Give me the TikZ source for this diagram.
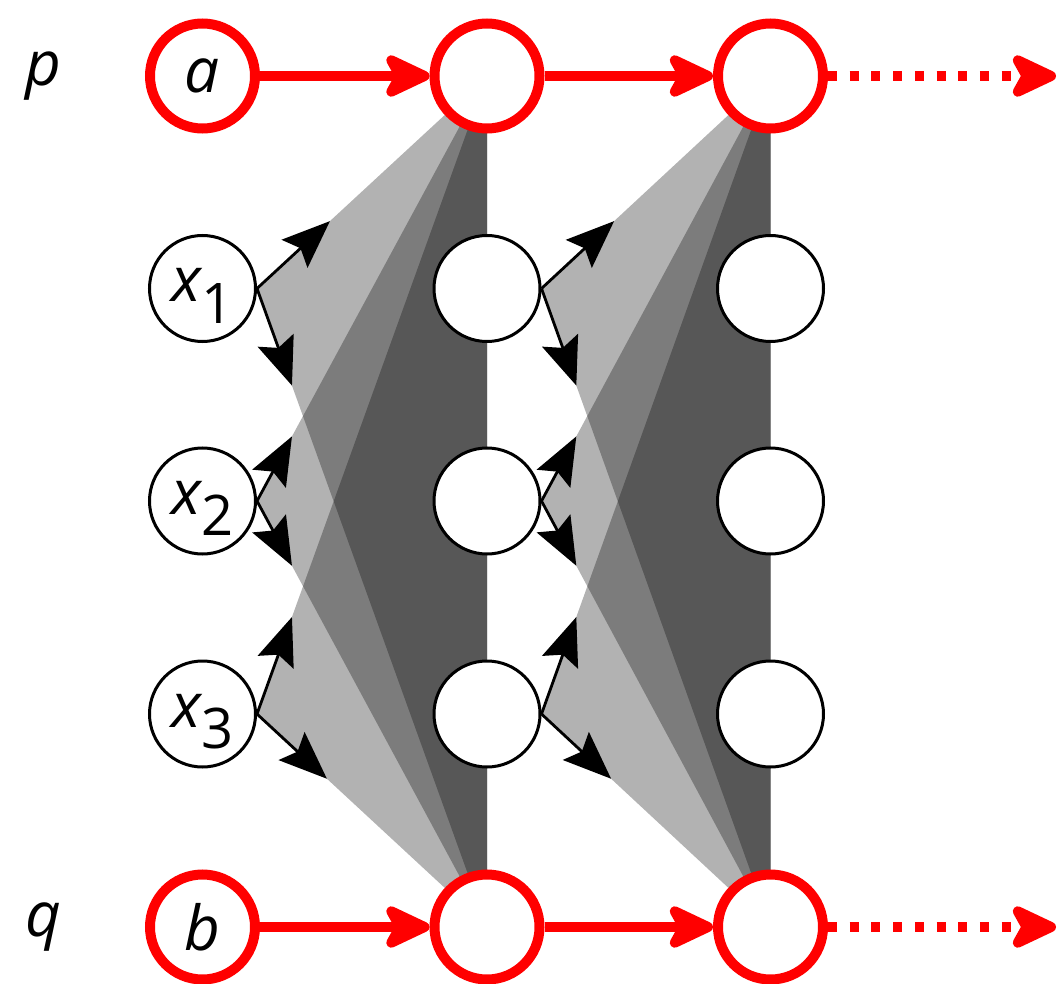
\documentclass[tikz,border=0pt]{standalone}
\usepackage{fontspec}
\setmainfont{Open Sans}
\usetikzlibrary{arrows.meta,calc}
\pgfdeclarelayer{bg}
\pgfsetlayers{bg,main}
\tikzset{
  rednode/.style={circle, draw=red, line width=10pt, fill=white, minimum size=105pt, inner sep=0pt},
  blknode/.style={circle, draw=black, line width=3pt, fill=white, minimum size=106pt, inner sep=0pt},
  redarrow/.style={draw=red, line width=10pt, -{Stealth[length=56pt,width=52pt,inset=14pt,round]}},
  dotarrow/.style={redarrow, dash pattern=on 9pt off 12.7pt},
  blkarrow/.style={line width=2.8pt, -{Stealth[length=48pt,width=38pt,inset=8pt]}},
  graytri/.style={fill=black, fill opacity=0.3},
  lbl/.style={font=\fontsize{62}{70}\selectfont\itshape},
  xlbl/.style={font=\fontsize{62}{70}\selectfont\itshape, text height=40pt, text depth=13pt},
}
\newcommand{\xsub}[1]{x\raisebox{-21pt}{\upshape\fontsize{56}{60}\selectfont #1}}
\begin{document}
\begin{tikzpicture}[x=1pt,y=-1pt]
\useasboundingbox (0,0) rectangle (1063,984);
% top and bottom rows
\node[rednode,lbl] (a) at (202.5,76) {a};
\node[rednode] (t1) at (487,76) {};
\node[rednode] (t2) at (770.5,76) {};
\node[rednode,lbl] (b) at (202.5,927) {b};
\node[rednode] (b1) at (487,927) {};
\node[rednode] (b2) at (770.5,927) {};
% middle nodes
\node[blknode,xlbl] (x1) at (202.5,288.5) {\xsub{1}};
\node[blknode,xlbl] (x2) at (202.5,501) {\xsub{2}};
\node[blknode,xlbl] (x3) at (202.5,714) {\xsub{3}};
\node[blknode] (m1) at (487,288.5) {};
\node[blknode] (m2) at (487,501) {};
\node[blknode] (m3) at (487,714) {};
\node[blknode] (n1) at (770.5,288.5) {};
\node[blknode] (n2) at (770.5,501) {};
\node[blknode] (n3) at (770.5,714) {};
% labels
\node[lbl] (p) at (43,76) {p};
\node[lbl] (q) at (43,927) {q};
\coordinate (e1) at (1056,76);
\coordinate (e2) at (1056,927);
% shaded triangles
\begin{pgfonlayer}{bg}
\foreach \s/\t/\u in {x1/t1/b1, x2/t1/b1, x3/t1/b1, m1/t2/b2, m2/t2/b2, m3/t2/b2}
  \fill[graytri] (\s.east) -- (\t.center) -- (\u.center) -- cycle;
\end{pgfonlayer}
% black arrows
\foreach \s/\t/\u/\fu/\fd in {x1/t1/b1/0.317/0.152, x2/t1/b1/0.152/0.152, x3/t1/b1/0.152/0.304,
                              m1/t2/b2/0.317/0.152, m2/t2/b2/0.152/0.152, m3/t2/b2/0.152/0.304}{
  \coordinate (\s-up) at ($(\s.east)!\fu!(\t.center)$);
  \coordinate (\s-dn) at ($(\s.east)!\fd!(\u.center)$);
  \draw[blkarrow] (\s.east) -- (\s-up);
  \draw[blkarrow] (\s.east) -- (\s-dn);
}
% red arrows
\draw[redarrow] (a) -- (t1);
\draw[redarrow] (t1) -- (t2);
\draw[redarrow] (b) -- (b1);
\draw[redarrow] (b1) -- (b2);
\draw[dotarrow] (t2) -- (e1);
\draw[dotarrow] (b2) -- (e2);
\end{tikzpicture}
\end{document}
